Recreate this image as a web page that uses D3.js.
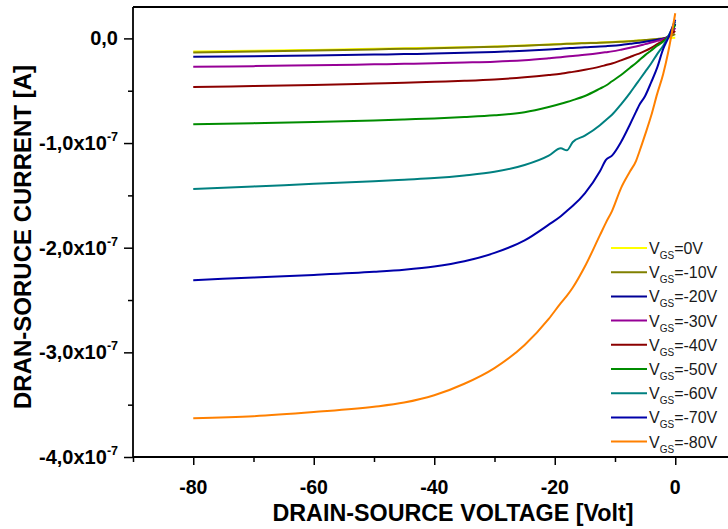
<!DOCTYPE html>
<html>
<head>
<meta charset="utf-8">
<script src="https://cdn.jsdelivr.net/npm/d3@7"></script>
<style>
  body { margin: 0; background: #fff; }
  svg { display: block; font-family: "Liberation Sans", Arial, sans-serif; }
</style>
</head>
<body>
<svg id="chart" width="728" height="529"></svg>
<script>
// Drain-source voltage sweep (V)
const vds = [-80, -70, -60, -50, -45, -40, -35, -30, -25, -21, -19, -18, -17, -15,
             -12.5, -11.5, -10.5, -9, -7.5, -6.5, -6, -5, -4, -3, -2, -1.2, 0];

// Drain current in units of 1e-7 A, one array per gate voltage
const id_vgs0   = [-0.125, -0.118, -0.110, -0.100, -0.095, -0.090, -0.085, -0.078, -0.068, -0.058, -0.053, -0.050, -0.048, -0.044,
                   -0.040, -0.037, -0.034, -0.030, -0.026, -0.022, -0.020, -0.016, -0.012, -0.007, -0.003, 0.004, 0.006];
const id_vgs10  = [-0.135, -0.125, -0.115, -0.105, -0.100, -0.095, -0.088, -0.080, -0.070, -0.060, -0.055, -0.052, -0.050, -0.046,
                   -0.042, -0.039, -0.036, -0.032, -0.027, -0.023, -0.021, -0.016, -0.011, -0.005, 0.002, 0.012, 0.040];
const id_vgs20  = [-0.176, -0.170, -0.163, -0.155, -0.150, -0.145, -0.138, -0.130, -0.118, -0.105, -0.098, -0.095, -0.091, -0.085,
                   -0.078, -0.074, -0.070, -0.062, -0.052, -0.045, -0.041, -0.032, -0.022, -0.012, -0.002, 0.015, 0.140];
const id_vgs30  = [-0.272, -0.265, -0.257, -0.248, -0.243, -0.237, -0.230, -0.222, -0.208, -0.190, -0.180, -0.174, -0.168, -0.157,
                   -0.140, -0.132, -0.124, -0.108, -0.090, -0.077, -0.070, -0.055, -0.040, -0.024, -0.008, 0.015, 0.100];
const id_vgs40  = [-0.464, -0.455, -0.445, -0.432, -0.425, -0.415, -0.405, -0.392, -0.372, -0.350, -0.337, -0.328, -0.320, -0.300,
                   -0.270, -0.255, -0.240, -0.210, -0.178, -0.155, -0.145, -0.120, -0.090, -0.055, -0.022, 0.015, 0.070];
const id_vgs50  = [-0.820, -0.810, -0.800, -0.785, -0.775, -0.765, -0.752, -0.735, -0.705, -0.655, -0.625, -0.608, -0.590, -0.550,
                   -0.480, -0.450, -0.410, -0.350, -0.280, -0.235, -0.210, -0.160, -0.115, -0.070, -0.030, 0.015, 0.130];
const id_vgs60  = [-1.440, -1.415, -1.390, -1.365, -1.350, -1.335, -1.310, -1.275, -1.210, -1.120, -1.050, -1.070, -0.990, -0.930,
                   -0.830, -0.780, -0.730, -0.630, -0.520, -0.440, -0.400, -0.320, -0.240, -0.150, -0.070, 0.015, 0.160];
const id_vgs70  = [-2.310, -2.285, -2.260, -2.230, -2.210, -2.180, -2.130, -2.050, -1.930, -1.780, -1.700, -1.650, -1.600, -1.480,
                   -1.270, -1.160, -1.120, -0.990, -0.820, -0.700, -0.640, -0.550, -0.420, -0.280, -0.100, 0.000, 0.180];
const id_vgs80  = [-3.630, -3.610, -3.570, -3.520, -3.480, -3.410, -3.300, -3.150, -2.930, -2.680, -2.530, -2.460, -2.380, -2.180,
                   -1.880, -1.760, -1.650, -1.430, -1.270, -1.170, -1.090, -0.920, -0.740, -0.530, -0.340, -0.140, 0.240];

const seriesValues = [id_vgs0, id_vgs10, id_vgs20, id_vgs30, id_vgs40, id_vgs50, id_vgs60, id_vgs70, id_vgs80];
const gateLabels = ["=0V", "=-10V", "=-20V", "=-30V", "=-40V", "=-50V", "=-60V", "=-70V", "=-80V"];
const seriesColors = ["#ffff00", "#808000", "#000096", "#960096", "#8b0000", "#008c00", "#008080", "#0000aa", "#ff8000"];

// Axis ticks
const xTicks = [-80, -60, -40, -20, 0];
const xMinorTicks = [-90, -70, -50, -30, -10];
const xTickLabels = ["-80", "-60", "-40", "-20", "0"];
const yTicks = [0, -1, -2, -3, -4];
const yMinorTicks = [-0.5, -1.5, -2.5, -3.5];
const yTickMantissa = ["0,0", "-1,0x10", "-2,0x10", "-3,0x10", "-4,0x10"];
const yTickExponent = ["", "-7", "-7", "-7", "-7"];

const svg = d3.select("#chart");
const x = d3.scaleLinear().domain([-90, 10]).range([133, 735.5]);
const y = d3.scaleLinear().domain([-4, 0.3]).range([457, 7]);

// Curves
const line = d3.line()
  .x(d => x(d[0]))
  .y(d => y(d[1]))
  .curve(d3.curveMonotoneX);

seriesValues.forEach((vals, i) => {
  svg.append("path")
    .datum(vds.map((v, k) => [v, vals[k]]))
    .attr("fill", "none")
    .attr("stroke", seriesColors[i])
    .attr("stroke-width", 2)
    .attr("stroke-linejoin", "round")
    .attr("d", line);
});

// Axes: major and minor ticks
const yAxis = svg.append("g").attr("transform", `translate(${x(-90)},0)`)
  .call(d3.axisLeft(y).tickValues(yTicks).tickSize(9).tickFormat(""));
const yAxisMinor = svg.append("g").attr("transform", `translate(${x(-90)},0)`)
  .call(d3.axisLeft(y).tickValues(yMinorTicks).tickSize(5).tickFormat(""));
const xAxis = svg.append("g").attr("transform", `translate(0,${y(-4)})`)
  .call(d3.axisBottom(x).tickValues(xTicks).tickSize(8).tickFormat(""));
const xAxisMinor = svg.append("g").attr("transform", `translate(0,${y(-4)})`)
  .call(d3.axisBottom(x).tickValues(xMinorTicks).tickSize(5).tickFormat(""));

[yAxis, yAxisMinor, xAxis, xAxisMinor].forEach(g => {
  g.select(".domain").remove();
  g.selectAll(".tick line").attr("stroke", "#000").attr("stroke-width", 1.5);
});

// Frame
const frame = svg.append("g").attr("stroke", "#000").attr("stroke-width", 1.8).attr("fill", "none");
frame.append("line").attr("x1", x(-90)).attr("x2", x(10)).attr("y1", y(0.3)).attr("y2", y(0.3));
frame.append("line").attr("x1", x(-90)).attr("x2", x(10)).attr("y1", y(-4)).attr("y2", y(-4));
frame.append("line").attr("x1", x(-90)).attr("x2", x(-90)).attr("y1", y(0.3)).attr("y2", y(-4));

// Y tick labels with exponent
yTicks.forEach((t, i) => {
  const txt = svg.append("text")
    .attr("x", 118)
    .attr("y", y(t) + 7)
    .attr("text-anchor", "end")
    .attr("font-size", 20)
    .attr("font-weight", "bold")
    .attr("fill", "#000");
  txt.append("tspan").text(yTickMantissa[i]);
  if (yTickExponent[i]) {
    txt.append("tspan").attr("font-size", 12.5).attr("dy", -9).text(yTickExponent[i]);
  }
});

// X tick labels
xTicks.forEach((t, i) => {
  svg.append("text")
    .attr("x", x(t))
    .attr("y", 494)
    .attr("text-anchor", "middle")
    .attr("font-size", 19.5)
    .attr("font-weight", "bold")
    .attr("fill", "#000")
    .text(xTickLabels[i]);
});

// Axis titles
svg.append("text")
  .attr("x", 453)
  .attr("y", 521)
  .attr("text-anchor", "middle")
  .attr("font-size", 23.3)
  .attr("font-weight", "bold")
  .attr("fill", "#000")
  .text("DRAIN-SOURCE VOLTAGE [Volt]");

svg.append("text")
  .attr("transform", "translate(31,237) rotate(-90)")
  .attr("text-anchor", "middle")
  .attr("font-size", 24)
  .attr("font-weight", "bold")
  .attr("fill", "#000")
  .text("DRAN-SORUCE CURRENT [A]");

// Legend
const legend = svg.append("g");
gateLabels.forEach((lab, i) => {
  const ly = 248 + i * 24.2;
  legend.append("line")
    .attr("x1", 611).attr("x2", 647)
    .attr("y1", ly).attr("y2", ly)
    .attr("stroke", seriesColors[i])
    .attr("stroke-width", 2);
  const t = legend.append("text")
    .attr("x", 649)
    .attr("y", ly + 6)
    .attr("font-size", 16)
    .attr("fill", "#1a1a1a");
  t.append("tspan").text("V");
  t.append("tspan").attr("font-size", 10).attr("dy", 5).text("GS");
  t.append("tspan").attr("dy", -5).text(lab);
});
</script>
</body>
</html>
